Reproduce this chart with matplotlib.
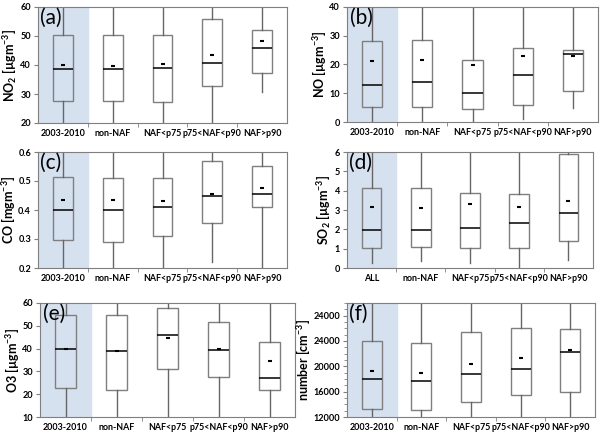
import matplotlib
matplotlib.use("Agg")
import matplotlib.pyplot as plt
from matplotlib.ticker import MultipleLocator

plt.rcParams['font.family'] = ['Lato', 'DejaVu Sans']
plt.rcParams['mathtext.default'] = 'regular'

cats = ['2003-2010', 'non-NAF', 'NAF<p75', 'p75<NAF<p90', 'NAF>p90']
cats_d = ['ALL', 'non-NAF', 'NAF<p75', 'p75<NAF<p90', 'NAF>p90']

# box stats per panel: q1, median, q3, mean, whisker low, whisker high
no2_q1 = [27.5, 27.5, 27.2, 32.7, 37.2]
no2_med = [38.5, 38.5, 39.0, 40.8, 46.0]
no2_q3 = [50.5, 50.5, 50.3, 55.7, 52.2]
no2_mean = [40.0, 39.8, 40.2, 43.3, 48.2]
no2_lo = [15, 15, 15, 15, 30.8]
no2_hi = [70, 70, 70, 70, 70]

no_q1 = [5.3, 5.3, 4.5, 5.8, 10.7]
no_med = [12.9, 14.0, 10.2, 16.3, 23.7]
no_q3 = [28.0, 28.4, 21.7, 25.6, 25.2]
no_mean = [21.2, 21.4, 19.8, 22.8, 22.8]
no_lo = [-1, -1, -1, 1.2, 4.7]
no_hi = [50, 50, 50, 50, 50]

co_q1 = [0.295, 0.291, 0.311, 0.354, 0.410]
co_med = [0.400, 0.400, 0.410, 0.447, 0.456]
co_q3 = [0.513, 0.510, 0.509, 0.569, 0.552]
co_mean = [0.436, 0.436, 0.432, 0.455, 0.476]
co_lo = [0.15, 0.15, 0.15, 0.221, 0.15]
co_hi = [0.7, 0.7, 0.7, 0.7, 0.7]

so2_q1 = [1.03, 1.07, 1.03, 1.03, 1.38]
so2_med = [1.97, 1.97, 2.07, 2.31, 2.84]
so2_q3 = [4.14, 4.14, 3.86, 3.83, 5.88]
so2_mean = [3.14, 3.10, 3.29, 3.14, 3.45]
so2_lo = [0.26, 0.34, 0.26, -0.1, 0.43]
so2_hi = [8, 8, 8, 8, 8]

o3_q1 = [22.6, 21.9, 30.9, 27.4, 21.9]
o3_med = [39.9, 39.1, 46.0, 39.4, 27.3]
o3_q3 = [54.8, 54.8, 57.7, 51.7, 42.7]
o3_mean = [39.7, 39.1, 44.6, 39.7, 34.6]
o3_lo = [5, 5, 5, 5, 5]
o3_hi = [70, 70, 70, 70, 70]

num_q1 = [13300, 13150, 14360, 15460, 15930]
num_med = [17980, 17660, 18770, 19560, 22330]
num_q3 = [24070, 23750, 25430, 26110, 25850]
num_mean = [19190, 18920, 20290, 21390, 22600]
num_lo = [10000, 10000, 10000, 10000, 10000]
num_hi = [34000, 34000, 34000, 34000, 34000]

num_ticks = [12000, 16000, 20000, 24000, 28000]
num_ticklabels = ['12000', '16000', '20000', '24000', '24000']

panels = [
    # rect (px: left, top, right, bottom), label, ylabel, ylim, ytick step, stats, cats
    ((38, 7, 287, 123), '(a)', 'NO$_2$ [µgm$^{-3}$]', (20, 60), 10,
     (no2_q1, no2_med, no2_q3, no2_mean, no2_lo, no2_hi), cats),
    ((347, 7, 598, 122), '(b)', 'NO [µgm$^{-3}$]', (0, 40), 10,
     (no_q1, no_med, no_q3, no_mean, no_lo, no_hi), cats),
    ((38, 152, 287, 268), '(c)', 'CO [mgm$^{-3}$]', (0.2, 0.6), 0.1,
     (co_q1, co_med, co_q3, co_mean, co_lo, co_hi), cats),
    ((347, 152, 593, 268), '(d)', 'SO$_2$ [µgm$^{-3}$]', (0, 6), 1,
     (so2_q1, so2_med, so2_q3, so2_mean, so2_lo, so2_hi), cats_d),
    ((40, 303, 295, 417), '(e)', 'O3 [µgm$^{-3}$]', (10, 60), 10,
     (o3_q1, o3_med, o3_q3, o3_mean, o3_lo, o3_hi), cats),
    ((347, 303, 595, 417), '(f)', 'number [cm$^{-3}$]', (12000, 30000), None,
     (num_q1, num_med, num_q3, num_mean, num_lo, num_hi), cats),
]

W, H = 600, 436
fig = plt.figure(figsize=(6, 4.36), dpi=100)

for rect, label, ylabel, ylim, step, stats, names in panels:
    l, t, r, b = rect
    ax = fig.add_axes([l / W, 1 - b / H, (r - l) / W, (b - t) / H])
    q1, med, q3, mean, lo, hi = stats
    bstats = []
    for i in range(len(names)):
        bstats.append({'q1': q1[i], 'med': med[i], 'q3': q3[i], 'mean': mean[i],
                       'whislo': lo[i], 'whishi': hi[i], 'fliers': []})
    pos = [i + 0.5 for i in range(len(names))]
    ax.axvspan(0, 1, color='#d6e1ef', zorder=0)
    ax.bxp(bstats, positions=pos, widths=0.4, showmeans=True, showcaps=False,
           patch_artist=True,
           boxprops=dict(facecolor='none', edgecolor='#7f7f7f', linewidth=1.0),
           whiskerprops=dict(color='#666666', linewidth=1.0),
           medianprops=dict(color='black', linewidth=1.1),
           meanprops=dict(marker='_', markeredgecolor='black', markersize=3.5,
                          markeredgewidth=1.5))
    ax.set_xlim(0, 5)
    ax.set_ylim(*ylim)
    ax.set_xticks(pos)
    ax.set_xticklabels(names, fontsize=6.4, fontweight='bold')
    ax.set_xticks([1, 2, 3, 4], minor=True)
    ax.tick_params(axis='x', which='major', length=0, pad=4)
    ax.tick_params(axis='x', which='minor', length=3, color='#7f7f7f')
    if step is None:
        ax.set_yticks(num_ticks)
        ax.set_yticklabels(num_ticklabels)
        ax.yaxis.set_minor_locator(MultipleLocator(1000))
    else:
        ax.yaxis.set_major_locator(MultipleLocator(step))
    for lab in ax.get_yticklabels():
        lab.set_fontweight('bold')
        lab.set_fontsize(6.6)
    ax.tick_params(axis='y', which='major', length=3, color='#7f7f7f', pad=2)
    ax.tick_params(axis='y', which='minor', length=2, color='#7f7f7f')
    for sp in ax.spines.values():
        sp.set_color('#7f7f7f')
    ax.set_ylabel(ylabel, fontsize=9, fontweight='bold', labelpad=1)
    ax.text(0.01, 0.99, label, transform=ax.transAxes, fontsize=15,
            va='top', ha='left')

fig.savefig('out.png', dpi=100)
